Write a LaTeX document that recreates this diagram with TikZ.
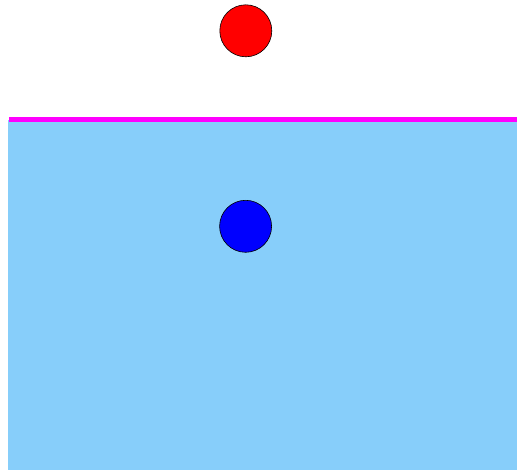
\documentclass[tikz,border=0pt]{standalone}
\definecolor{water}{HTML}{87CEFA}
\definecolor{surf}{HTML}{FF00FF}
\tikzset{
  ball/.style={circle, draw=black, line width=0.6pt, minimum size=52pt, inner sep=0pt},
}
\begin{document}
\begin{tikzpicture}[x=1pt,y=-1pt]
\useasboundingbox (0,0) rectangle (517,470);
\fill[water] (8,120) rectangle (517,470);
\draw[surf, line width=5pt] (9,119.8) -- (517,119.8);
\node[ball, fill=red] (top) at (245.8,30.8) {};
\node[ball, fill=blue] (bottom) at (245.6,226.3) {};
\end{tikzpicture}
\end{document}
